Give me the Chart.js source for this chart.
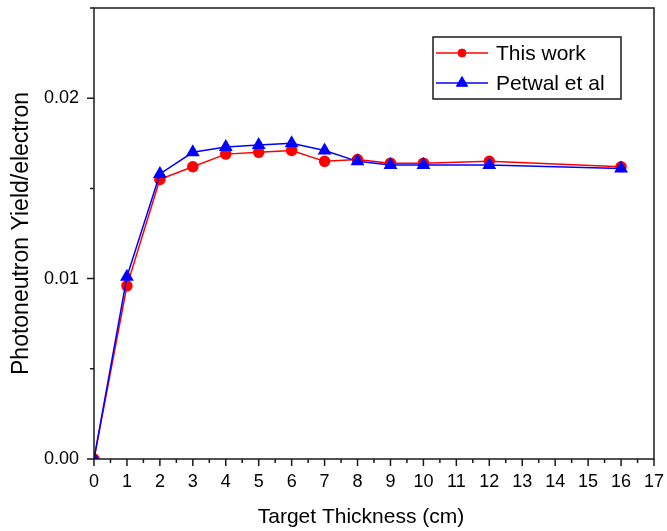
<!DOCTYPE html>
<html>
<head>
<meta charset="utf-8">
<script src="https://cdn.jsdelivr.net/npm/chart.js@4/dist/chart.umd.min.js"></script>
<style>
  html, body { margin: 0; padding: 0; background: #ffffff; }
  #wrap { width: 667px; height: 531px; position: relative; }
</style>
</head>
<body>
<div id="wrap"><canvas id="c" width="667" height="531"></canvas></div>
<script>
// ---- Data ----
const thickness = [0, 1, 2, 3, 4, 5, 6, 7, 8, 9, 10, 12, 16];
const thisWork  = [0, 0.0096, 0.0155, 0.0162, 0.0169, 0.0170, 0.0171, 0.0165, 0.0166, 0.0164, 0.0164, 0.0165, 0.0162];
const petwal    = [0, 0.0101, 0.0158, 0.0170, 0.0173, 0.0174, 0.0175, 0.0171, 0.0165, 0.0163, 0.0163, 0.0163, 0.0161];
const xTicks = [0, 1, 2, 3, 4, 5, 6, 7, 8, 9, 10, 11, 12, 13, 14, 15, 16, 17];
const yTicks = [0, 0.01, 0.02];
const xMinorTicks = [0.5, 1.5, 2.5, 3.5, 4.5, 5.5, 6.5, 7.5, 8.5, 9.5, 10.5, 11.5, 12.5, 13.5, 14.5, 15.5, 16.5];
const yMinorTicks = [0.005, 0.015, 0.025];
const seriesNames = ['This work', 'Petwal et al'];
const xTitle = 'Target Thickness (cm)';
const yTitle = 'Photoneutron Yield/electron';

const FONT = "'Liberation Sans', Arial, sans-serif";
const RED = '#ff0000';
const BLUE = '#0000ff';

const toPts = (ys) => thickness.map((x, i) => ({ x: x, y: ys[i] }));

const framePlugin = {
  id: 'frame',
  afterDraw(chart) {
    const ctx = chart.ctx;
    const a = chart.chartArea;
    const xs = chart.scales.x, ys = chart.scales.y;
    ctx.save();
    ctx.strokeStyle = '#1a1a1a';
    ctx.lineWidth = 1.5;
    ctx.strokeRect(a.left, a.top, a.right - a.left, a.bottom - a.top);
    ctx.beginPath();
    xTicks.forEach(v => { const p = xs.getPixelForValue(v); ctx.moveTo(p, a.bottom); ctx.lineTo(p, a.bottom + 7); });
    xMinorTicks.forEach(v => { const p = xs.getPixelForValue(v); ctx.moveTo(p, a.bottom); ctx.lineTo(p, a.bottom + 4); });
    yTicks.forEach(v => { const p = ys.getPixelForValue(v); ctx.moveTo(a.left, p); ctx.lineTo(a.left - 7, p); });
    yMinorTicks.forEach(v => { const p = ys.getPixelForValue(v); ctx.moveTo(a.left, p); ctx.lineTo(a.left - 4, p); });
    ctx.stroke();

    // x axis title (slightly left of centre, as in the reference)
    ctx.fillStyle = '#000000';
    ctx.font = '21px ' + FONT;
    ctx.textAlign = 'center';
    ctx.textBaseline = 'middle';
    ctx.fillText(xTitle, (a.left + a.right) / 2 - 13, a.bottom + 58);

    // legend box
    const bx = a.right - 221, by = a.top + 29, bw = 188, bh = 62;
    ctx.lineWidth = 1.5;
    ctx.strokeStyle = '#1a1a1a';
    ctx.strokeRect(bx, by, bw, bh);
    const dsets = chart.data.datasets;
    const order = [1, 0]; // 'This work' first
    order.forEach((di, row) => {
      const ds = dsets[di];
      const cy = by + 16 + row * 30;
      ctx.strokeStyle = ds.borderColor;
      ctx.lineWidth = ds.borderWidth;
      ctx.beginPath();
      ctx.moveTo(bx + 3, cy);
      ctx.lineTo(bx + 55, cy);
      ctx.stroke();
      ctx.fillStyle = ds.pointBackgroundColor;
      ctx.strokeStyle = ds.pointBorderColor;
      ctx.lineWidth = 1;
      Chart.helpers.drawPoint(ctx, { pointStyle: ds.pointStyle, radius: ds.pointStyle === 'circle' ? 4 : ds.pointRadius, borderWidth: 1, rotation: 0 }, bx + 29, cy);
      ctx.fillStyle = '#000000';
      ctx.font = '21px ' + FONT;
      ctx.textBaseline = 'middle';
      ctx.textAlign = 'left';
      ctx.fillText(ds.label, bx + 63, cy + 1);
    });
    ctx.restore();
  }
};

new Chart(document.getElementById('c'), {
  type: 'line',
  data: {
    datasets: [
      {
        label: seriesNames[1],
        data: toPts(petwal),
        borderColor: BLUE,
        backgroundColor: BLUE,
        pointBackgroundColor: BLUE,
        pointBorderColor: BLUE,
        pointStyle: 'triangle',
        pointRadius: 6.5,
        borderWidth: 1.5,
        tension: 0,
        order: 0
      },
      {
        label: seriesNames[0],
        data: toPts(thisWork),
        borderColor: RED,
        backgroundColor: RED,
        pointBackgroundColor: RED,
        pointBorderColor: RED,
        pointStyle: 'circle',
        pointRadius: 5,
        borderWidth: 1.5,
        tension: 0,
        order: 1
      }
    ]
  },
  options: {
    responsive: false,
    animation: false,
    layout: { padding: { top: 5, right: 13, left: 0, bottom: 0 } },
    plugins: { legend: { display: false }, tooltip: { enabled: false } },
    scales: {
      x: {
        type: 'linear',
        min: 0, max: 17,
        afterFit(s) { s.height = 72; s.paddingLeft = 0; s.paddingRight = 0; },
        afterBuildTicks(s) { s.ticks = xTicks.map(v => ({ value: v })); },
        grid: { display: false, drawTicks: false },
        border: { display: false },
        ticks: { color: '#000', font: { family: FONT, size: 18 }, padding: 12, maxRotation: 0, autoSkip: false,
                 callback: (v) => String(v) },
        title: { display: false }
      },
      y: {
        type: 'linear',
        min: 0, max: 0.025,
        afterFit(s) { s.width = 94; s.paddingTop = 0; s.paddingBottom = 0; },
        afterBuildTicks(s) { s.ticks = yTicks.map(v => ({ value: v })); },
        grid: { display: false, drawTicks: false },
        border: { display: false },
        ticks: { color: '#000', font: { family: FONT, size: 18 }, padding: 15,
                 callback: (v) => Number(v).toFixed(2) },
        title: { display: true, text: yTitle, color: '#000', font: { family: FONT, size: 23 }, padding: { top: 8, bottom: 0 } }
      }
    }
  },
  plugins: [framePlugin]
});
</script>
</body>
</html>
